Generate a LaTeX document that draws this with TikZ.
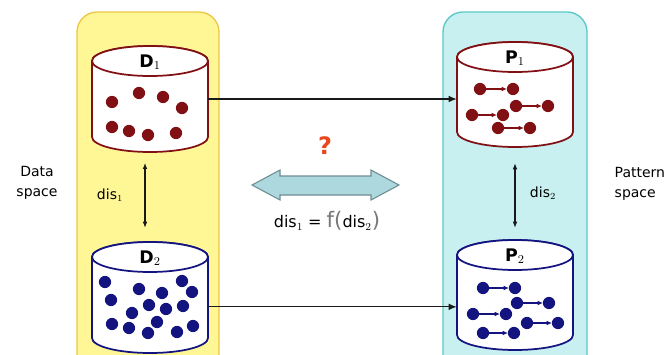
\documentclass[tikz,border=0pt]{standalone}
\usepackage{fontspec}
\setmainfont{DejaVu Sans}
\usepackage{tikz}
\usetikzlibrary{arrows.meta}
\definecolor{dred}{RGB}{128,16,20}
\definecolor{dblue}{RGB}{20,20,128}
\definecolor{yfill}{RGB}{255,246,150}
\definecolor{ybord}{RGB}{236,200,70}
\definecolor{cfill}{RGB}{200,240,240}
\definecolor{cbord}{RGB}{90,200,200}
\definecolor{afill}{RGB}{172,216,222}
\definecolor{abord}{RGB}{110,140,150}
\definecolor{qred}{RGB}{232,72,30}
\definecolor{fgray}{RGB}{120,120,120}
\begin{document}
\begin{tikzpicture}[x=0.75pt,y=-0.75pt,
  panel/.style={rounded corners=15pt, line width=1pt},
  drum/.style={fill=white, line width=1.3pt},
  lbl/.style={font=\fontsize{10.5}{15.5}\selectfont, text=black},
  link/.style={-{Latex[length=6pt,width=5pt]}, line width=0.9pt, black!90},
  twin/.style={{Latex[length=4.5pt,width=3.5pt]}-{Latex[length=4.5pt,width=3.5pt]}, line width=0.8pt, black!90},
  pair/.style={line width=0.8pt, -{Latex[length=4pt,width=3.5pt]}, shorten >=4.5pt}]
\clip (0,0) rectangle (671,354);
\fill[white] (0,0) rectangle (671,354);
% the two spaces
\draw[panel, draw=ybord, fill=yfill] (77,12) rectangle (219,390);
\draw[panel, draw=cbord, fill=cfill] (443,12) rectangle (587,390);
% databases
\foreach \nm/\cx/\tc/\bc/\col/\txt in {D1/150/61/137/dred/{\textbf{D}$_1$}, D2/150/257/338/dblue/{\textbf{D}$_2$},
    P1/515/57/132/dred/{\textbf{P}$_1$}, P2/515/255/335/dblue/{\textbf{P}$_2$}} {
  \draw[drum, draw=\col] (\cx-58,\tc) -- (\cx-58,\bc) arc[start angle=180, end angle=0, x radius=58, y radius=15]
    -- (\cx+58,\tc) arc[start angle=0, end angle=-180, x radius=58, y radius=15] -- cycle;
  \draw[drum, draw=\col] (\cx,\tc) ellipse[x radius=58, y radius=15];
  \node[inner sep=0pt, minimum width=87pt, minimum height={(\bc-\tc+30)*0.75pt}] (\nm) at (\cx,{(\tc+\bc)/2}) {};
  \node[font=\fontsize{13}{15}\selectfont] at (\cx,{\tc+1}) {\txt};
}
\foreach \x/\y in {112/102, 139/93, 163/97, 182/108, 112/127, 129/131, 148/135, 176/133}
  \fill[dred] (\x,\y) circle[radius=4.6pt];
\foreach \x/\y in {105/282, 139/289, 162/293, 182/281, 192/292, 111/300, 149/305, 183/306,
    166/309, 132/313, 112/324, 129/328, 148/333, 157/322, 177/332, 193/326}
  \fill[dblue] (\x,\y) circle[radius=4.6pt];
\foreach \a/\b/\y in {480/513/89, 516/548/106, 472/503/115, 498/530/128} {
  \draw[pair, dred] (\a,\y) -- (\b,\y);
  \fill[dred] (\a,\y) circle[radius=4.6pt] (\b,\y) circle[radius=4.6pt];
}
\foreach \a/\b/\y in {483/515/288, 517/549/303, 473/506/314, 527/558/323, 483/514/333} {
  \draw[pair, dblue] (\a,\y) -- (\b,\y);
  \fill[dblue] (\a,\y) circle[radius=4.6pt] (\b,\y) circle[radius=4.6pt];
}
% mappings
\draw[link] (D1.east) -- (D1.east -| P1.west);
\draw[link] ([yshift=-7pt]D2.east) -- ([yshift=-7pt]D2.east -| P2.west);
\draw[twin, shorten <=8pt, shorten >=10.5pt] ([xshift=-3.75pt]D1.south) -- ([xshift=-3.75pt]D2.north);
\draw[twin, shorten <=12pt, shorten >=9pt] (P1.south) -- (P2.north);
\node[lbl] (dis1) at (110,195) {dis$_1$};
\node[lbl] (dis2) at (543,193) {dis$_2$};
\node[lbl, align=center] (dspace) at (37,183) {Data\\space};
\node[lbl, align=left, anchor=west] (pspace) at (610,184) {Pattern\\space};
% the question
\draw[draw=abord, fill=afill, line width=0.8pt] (252,185) -- (280,170) -- (280,176) -- (371,176) -- (371,170)
  -- (399,185) -- (371,200) -- (371,195) -- (280,195) -- (280,200) -- cycle;
\node[font=\bfseries\fontsize{18}{20}\selectfont, text=qred] (ask) at (325,146) {?};
\node[font=\fontsize{12}{14}\selectfont, text=black] (rel) at (327,221)
  {dis$_1$ = {\color{fgray}\fontsize{16}{16}\selectfont f(}dis$_2${\color{fgray}\fontsize{16}{16}\selectfont )}};
\end{tikzpicture}
\end{document}
